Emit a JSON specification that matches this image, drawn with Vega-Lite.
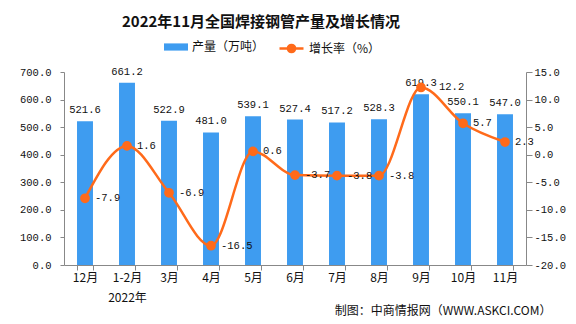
{
  "$schema": "https://vega.github.io/schema/vega-lite/v6.json",
  "width": 462,
  "height": 193,
  "autosize": {"type": "none"},
  "padding": {"left": 64, "top": 72, "right": 50, "bottom": 59},
  "background": "white",
  "config": {
    "font": "Noto Sans CJK SC",
    "view": {"stroke": null},
    "axis": {"labelFont": "Liberation Mono", "labelFontSize": 10.5, "labelColor": "#111", "domainColor": "#888", "tickColor": "#888", "grid": false}
  },
  "title": {
    "text": "2022年11月全国焊接钢管产量及增长情况",
    "fontSize": 15,
    "fontWeight": "bold",
    "font": "Noto Sans CJK SC",
    "color": "#111",
    "anchor": "middle",
    "dx": -34,
    "offset": 5
  },
  "data": {
    "values": [
      {"month": "12月", "output": 521.6, "growth": -7.9},
      {"month": "1-2月", "output": 661.2, "growth": 1.6},
      {"month": "3月", "output": 522.9, "growth": -6.9},
      {"month": "4月", "output": 481.0, "growth": -16.5},
      {"month": "5月", "output": 539.1, "growth": 0.6},
      {"month": "6月", "output": 527.4, "growth": -3.7},
      {"month": "7月", "output": 517.2, "growth": -3.8},
      {"month": "8月", "output": 528.3, "growth": -3.8},
      {"month": "9月", "output": 619.3, "growth": 12.2},
      {"month": "10月", "output": 550.1, "growth": 5.7},
      {"month": "11月", "output": 547.0, "growth": 2.3}
    ]
  },
  "encoding": {
    "x": {
      "field": "month",
      "type": "nominal",
      "sort": null,
      "scale": {"paddingInner": 0.62, "paddingOuter": 0.31},
      "axis": {
        "title": "制图：中商情报网（WWW.ASKCI.COM）",
        "titleFont": "Noto Sans CJK SC",
        "titleFontSize": 12,
        "titleFontWeight": "normal",
        "titleColor": "#111",
        "titleAlign": "right",
        "titleAnchor": "end",
        "titleX": 487,
        "titleY": 45,
        "titleBaseline": "middle",
        "labelFont": "Noto Sans CJK SC",
        "labelFontSize": 12,
        "labelAngle": 0,
        "tickBand": "extent",
        "tickSize": 5,
        "labelPadding": 2,
        "labelLineHeight": 20,
        "labelExpr": "datum.value == '1-2月' ? ['1-2月', '2022年'] : datum.value"
      }
    }
  },
  "layer": [
    {
      "mark": {"type": "bar"},
      "encoding": {
        "y": {
          "field": "output",
          "type": "quantitative",
          "scale": {"domain": [0, 700]},
          "axis": {"orient": "left", "title": null, "values": [0, 100, 200, 300, 400, 500, 600, 700], "format": ".1f", "tickSize": 4, "labelPadding": 9}
        },
        "fill": {
          "datum": "产量（万吨）",
          "type": "nominal",
          "scale": {"range": ["#3E9CF0"]},
          "legend": {
            "title": null,
            "orient": "none",
            "legendX": 100,
            "legendY": -37,
            "symbolType": "M-1,-0.3H1V0.3H-1Z",
            "symbolSize": 576,
            "symbolStrokeWidth": 0,
            "labelFontSize": 12,
            "labelColor": "#111"
          }
        }
      }
    },
    {
      "mark": {"type": "text", "dy": -11, "fontSize": 10.5, "font": "Liberation Mono", "color": "#111"},
      "encoding": {
        "y": {"field": "output", "type": "quantitative", "scale": {"domain": [0, 700]}, "axis": null},
        "text": {"field": "output", "type": "quantitative", "format": ".1f"}
      }
    },
    {
      "mark": {"type": "line", "interpolate": "monotone", "strokeWidth": 2.5, "point": {"filled": true, "size": 60, "color": "#FF6A1A"}},
      "encoding": {
        "y": {
          "field": "growth",
          "type": "quantitative",
          "scale": {"domain": [-20, 15]},
          "axis": {"orient": "right", "title": null, "values": [-20, -15, -10, -5, 0, 5, 10, 15], "format": ".1f", "tickSize": 6, "labelPadding": 2, "labelExpr": "replace(datum.label, '\u2212', '-')"}
        },
        "stroke": {
          "datum": "增长率（%）",
          "type": "nominal",
          "scale": {"range": ["#FF6A1A"]},
          "legend": {
            "title": null,
            "orient": "none",
            "legendX": 214,
            "legendY": -37,
            "symbolType": "M-1,0H1M0.3,0A0.3,0.3,0,1,1,-0.3,0A0.3,0.3,0,1,1,0.3,0Z",
            "symbolSize": 576,
            "symbolStrokeWidth": 2.5,
            "symbolFillColor": "#FF6A1A",
            "labelFontSize": 12,
            "labelColor": "#111"
          }
        }
      }
    },
    {
      "mark": {"type": "text", "dx": {"expr": "datum.month == '9月' ? 18 : 10"}, "align": "left", "fontSize": 10.5, "font": "Liberation Mono", "color": "#111", "text": {"expr": "replace(format(datum.growth, '.1f'), '\u2212', '-')"}},
      "encoding": {
        "y": {"field": "growth", "type": "quantitative", "scale": {"domain": [-20, 15]}, "axis": null}
      }
    }
  ],
  "resolve": {"scale": {"y": "independent"}}
}
